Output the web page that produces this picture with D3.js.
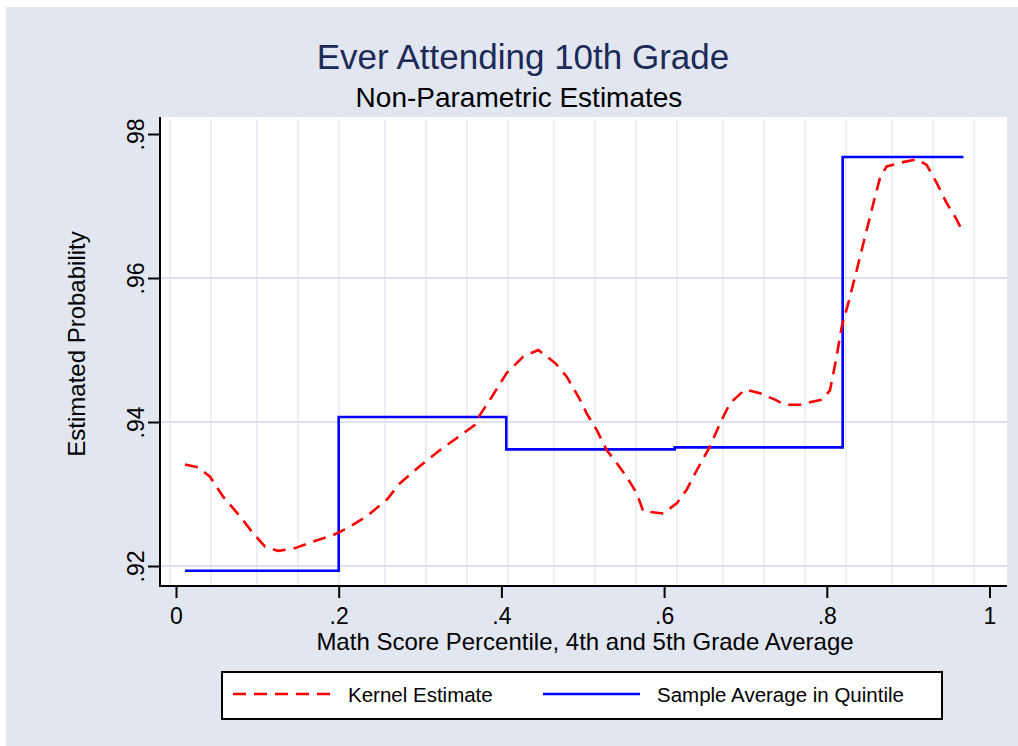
<!DOCTYPE html>
<html>
    <head>
        <meta charset="utf-8">
        <title>Ever Attending 10th Grade</title>
        <script src="https://cdnjs.cloudflare.com/ajax/libs/d3/7.8.5/d3.min.js"></script>
        <style>
            body { margin: 0; background: #ffffff; }
            text { font-family: "Liberation Sans", Arial, sans-serif; }
        </style>
    </head>
    <body>
        <div id="chart"></div>
        <script>
            var width = 1018, height = 746;

            // kernel estimate [percentile, probability]
            const kernelX = [0.0111, 0.0274, 0.0418, 0.0581, 0.0787, 0.0950, 0.1094, 0.1258, 0.1442, 0.1688,
                0.1934, 0.2098, 0.2344, 0.2590, 0.2754, 0.2999, 0.3245, 0.3491, 0.3675, 0.3737,
                0.3860, 0.4065, 0.4269, 0.4454, 0.4659, 0.4803, 0.4966, 0.5048, 0.5171, 0.5294,
                0.5417, 0.5540, 0.5663, 0.5744, 0.5990, 0.6155, 0.6278, 0.6401, 0.6564, 0.6687,
                0.6810, 0.6994, 0.7179, 0.7363, 0.7486, 0.7671, 0.7818, 0.7941, 0.8039, 0.8113,
                0.8183, 0.8264, 0.8368, 0.8449, 0.8531, 0.8593, 0.8654, 0.8736, 0.8900, 0.9105,
                0.9228, 0.9351, 0.9474, 0.9597, 0.9671];
            const kernelY = [0.9341, 0.9337, 0.9324, 0.9296, 0.9269, 0.9245, 0.9227, 0.9221, 0.9224, 0.9234,
                0.9243, 0.9252, 0.9269, 0.9292, 0.9315, 0.9339, 0.9361, 0.9381, 0.9396, 0.9410,
                0.9431, 0.9468, 0.9491, 0.9500, 0.9482, 0.9463, 0.9431, 0.9412, 0.9389, 0.9361,
                0.9343, 0.9324, 0.9301, 0.9276, 0.9273, 0.9287, 0.9306, 0.9333, 0.9366, 0.9398,
                0.9426, 0.9445, 0.9440, 0.9431, 0.9424, 0.9424, 0.9428, 0.9431, 0.9444, 0.9486,
                0.9532, 0.9565, 0.9611, 0.9648, 0.9685, 0.9713, 0.9739, 0.9755, 0.9760, 0.9765,
                0.9757, 0.9732, 0.9704, 0.9681, 0.9664];

            // quintile sample averages: edges and level in each quintile
            const quintileEdges = [0.011, 0.2, 0.406, 0.613, 0.8195, 0.968];
            const quintileMeans = [0.91935, 0.9407, 0.9362, 0.93648, 0.9768];

            const xTicks = [0, 0.2, 0.4, 0.6, 0.8, 1];
            const xTickLabels = ["0", ".2", ".4", ".6", ".8", "1"];
            const yTicks = [0.92, 0.94, 0.96, 0.98];
            const yTickLabels = [".92", ".94", ".96", ".98"];
            const yGrid = [0.92, 0.94, 0.96];
            const xGrid = [-0.0074, 0.0430, 0.0996, 0.1500, 0.2004, 0.2569, 0.3073, 0.3577, 0.4081, 0.4647,
                0.5151, 0.5655, 0.6159, 0.6724, 0.7228, 0.7732, 0.8236, 0.8801, 0.9305, 0.9809];

            var plot = {left: 160, right: 1007, top: 117, bottom: 586};

            var svg = d3.select("#chart")
                .append("svg")
                .attr("width", width)
                .attr("height", height);

            // graph region
            svg.append("rect")
                .attr("x", 6).attr("y", 7)
                .attr("width", width - 6).attr("height", height - 7)
                .attr("fill", "#e1e6f0");

            svg.append("rect")
                .attr("x", plot.left).attr("y", plot.top)
                .attr("width", plot.right - plot.left).attr("height", plot.bottom - plot.top)
                .attr("fill", "#ffffff");

            var xScale = d3.scaleLinear().domain([0, 1]).range([176, 989.5]);
            var yScale = d3.scaleLinear().domain([0.92, 0.98]).range([566, 134]);

            // grid
            svg.append("g").selectAll("line")
                .data(xGrid)
                .enter()
                .append("line")
                .attr("x1", function (d) { return xScale(d); })
                .attr("x2", function (d) { return xScale(d); })
                .attr("y1", plot.top + 2).attr("y2", plot.bottom - 1)
                .attr("stroke", "#e0e4ee")
                .attr("stroke-width", 1.2);

            svg.append("g").selectAll("line")
                .data(yGrid)
                .enter()
                .append("line")
                .attr("x1", plot.left).attr("x2", plot.right)
                .attr("y1", function (d) { return yScale(d); })
                .attr("y2", function (d) { return yScale(d); })
                .attr("stroke", "#dde2ee")
                .attr("stroke-width", 2);

            // sample average step line
            var stepData = quintileEdges.map(function (e, i) {
                return [e, quintileMeans[Math.min(i, quintileMeans.length - 1)]];
            });
            var stepLine = d3.line()
                .x(function (d) { return xScale(d[0]); })
                .y(function (d) { return yScale(d[1]); })
                .curve(d3.curveStepAfter);

            svg.append("path")
                .datum(stepData)
                .attr("d", stepLine)
                .attr("fill", "none")
                .attr("stroke", "#0000ff")
                .attr("stroke-width", 2.6);

            // kernel estimate
            var kernelData = kernelX.map(function (x, i) { return [x, kernelY[i]]; });
            var line = d3.line()
                .x(function (d) { return xScale(d[0]); })
                .y(function (d) { return yScale(d[1]); });

            svg.append("path")
                .datum(kernelData)
                .attr("d", line)
                .attr("fill", "none")
                .attr("stroke", "#ff0000")
                .attr("stroke-width", 2.6)
                .attr("stroke-dasharray", "13,8");

            // axes
            var xAxis = d3.axisBottom(xScale)
                .tickValues(xTicks)
                .tickFormat(function (d, i) { return xTickLabels[i]; })
                .tickSize(12)
                .tickPadding(10);
            var gx = svg.append("g")
                .attr("transform", "translate(0," + plot.bottom + ")")
                .call(xAxis);
            gx.select(".domain").remove();
            gx.selectAll("line").attr("stroke", "#000").attr("stroke-width", 2);
            gx.selectAll("text")
                .attr("fill", "#000")
                .style("font-size", "23px")
                .style("font-family", "'Liberation Sans', Arial, sans-serif");

            var yAxis = d3.axisLeft(yScale)
                .tickValues(yTicks)
                .tickFormat(function (d, i) { return yTickLabels[i]; })
                .tickSize(12);
            var gy = svg.append("g")
                .attr("transform", "translate(" + plot.left + ",0)")
                .call(yAxis);
            gy.select(".domain").remove();
            gy.selectAll("line").attr("stroke", "#000").attr("stroke-width", 2);
            gy.selectAll("text")
                .attr("fill", "#000")
                .attr("x", null).attr("dy", null)
                .attr("text-anchor", "middle")
                .attr("transform", "translate(-16,0) rotate(-90)")
                .style("font-size", "23px")
                .style("font-family", "'Liberation Sans', Arial, sans-serif");

            svg.append("line")
                .attr("x1", plot.left).attr("x2", plot.left)
                .attr("y1", plot.top).attr("y2", plot.bottom + 1)
                .attr("stroke", "#000").attr("stroke-width", 2);
            svg.append("line")
                .attr("x1", plot.left - 1).attr("x2", plot.right)
                .attr("y1", plot.bottom).attr("y2", plot.bottom)
                .attr("stroke", "#000").attr("stroke-width", 2);

            // titles
            svg.append("text")
                .attr("x", 523).attr("y", 69)
                .attr("text-anchor", "middle")
                .attr("fill", "#1c2a58")
                .style("font-size", "35px")
                .text("Ever Attending 10th Grade");

            svg.append("text")
                .attr("x", 519).attr("y", 107)
                .attr("text-anchor", "middle")
                .attr("fill", "#000")
                .style("font-size", "28px")
                .text("Non-Parametric Estimates");

            svg.append("text")
                .attr("x", 585).attr("y", 650)
                .attr("text-anchor", "middle")
                .attr("fill", "#000")
                .style("font-size", "24px")
                .text("Math Score Percentile, 4th and 5th Grade Average");

            svg.append("text")
                .attr("transform", "translate(85,344) rotate(-90)")
                .attr("text-anchor", "middle")
                .attr("fill", "#000")
                .style("font-size", "24px")
                .text("Estimated Probability");

            // legend
            var legend = svg.append("g");
            legend.append("rect")
                .attr("x", 222).attr("y", 672)
                .attr("width", 720).attr("height", 47)
                .attr("fill", "#ffffff")
                .attr("stroke", "#000")
                .attr("stroke-width", 2);
            legend.append("line")
                .attr("x1", 233).attr("x2", 330)
                .attr("y1", 694).attr("y2", 694)
                .attr("stroke", "#ff0000").attr("stroke-width", 2.6)
                .attr("stroke-dasharray", "13,8");
            legend.append("text")
                .attr("x", 348).attr("y", 702)
                .attr("fill", "#000")
                .style("font-size", "20.5px")
                .text("Kernel Estimate");
            legend.append("line")
                .attr("x1", 543).attr("x2", 640)
                .attr("y1", 694).attr("y2", 694)
                .attr("stroke", "#0000ff").attr("stroke-width", 2.6);
            legend.append("text")
                .attr("x", 657).attr("y", 702)
                .attr("fill", "#000")
                .style("font-size", "20.5px")
                .text("Sample Average in Quintile");
        </script>
    </body>
</html>
